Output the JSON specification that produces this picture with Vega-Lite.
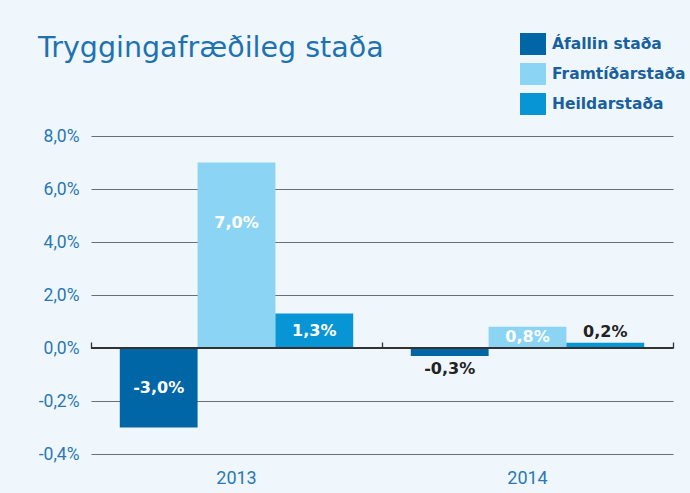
{
  "$schema": "https://vega.github.io/schema/vega-lite/v6.json",
  "width": 582,
  "height": 318,
  "autosize": {"type": "none"},
  "padding": {"left": 91, "top": 136, "right": 17, "bottom": 39},
  "background": "#eff7fd",
  "title": {
    "text": "Tryggingafræðileg staða",
    "anchor": "start",
    "frame": "group",
    "orient": "top",
    "dx": -53,
    "offset": -29,
    "font": "DejaVu Sans",
    "fontSize": 28.5,
    "fontWeight": "normal",
    "color": "#1f72b0"
  },
  "data": {
    "values": [
      {"ar": "2013", "flokkur": "Áfallin staða", "gildi": -3.0},
      {"ar": "2013", "flokkur": "Framtíðarstaða", "gildi": 7.0},
      {"ar": "2013", "flokkur": "Heildarstaða", "gildi": 1.3},
      {"ar": "2014", "flokkur": "Áfallin staða", "gildi": -0.3},
      {"ar": "2014", "flokkur": "Framtíðarstaða", "gildi": 0.8},
      {"ar": "2014", "flokkur": "Heildarstaða", "gildi": 0.2}
    ]
  },
  "config": {
    "view": {"stroke": null},
    "font": "Roboto"
  },
  "encoding": {
    "x": {
      "field": "ar",
      "type": "nominal",
      "scale": {"paddingInner": 0, "paddingOuter": 0}
    },
    "xOffset": {
      "field": "flokkur",
      "type": "nominal",
      "sort": ["Áfallin staða", "Framtíðarstaða", "Heildarstaða"],
      "scale": {"paddingInner": 0, "paddingOuter": 0.37}
    }
  },
  "layer": [
    {
      "mark": {"type": "bar"},
      "encoding": {
        "x": {
          "field": "ar",
          "type": "nominal",
          "scale": {"paddingInner": 0, "paddingOuter": 0},
          "axis": {
            "orient": "bottom",
            "title": null,
            "domain": false,
            "ticks": false,
            "labelAngle": 0,
            "labelFont": "Roboto",
            "labelFontSize": 18,
            "labelColor": "#2a78b5",
            "labelPadding": 15
          }
        },
        "y": {
          "field": "gildi",
          "type": "quantitative",
          "scale": {"domain": [-4, 8], "nice": false},
          "axis": {
            "title": null,
            "values": [-4, -2, 0, 2, 4, 6, 8],
            "labelExpr": "datum.value == -2 ? '-0,2%' : datum.value == -4 ? '-0,4%' : replace(format(datum.value, '.1f'), '.', ',') + '%'",
            "domain": false,
            "ticks": false,
            "grid": true,
            "gridColor": "#6e6e6e",
            "gridWidth": 1.2,
            "labelFont": "Roboto",
            "labelFontSize": 17.5,
            "labelColor": "#2a78b5",
            "labelPadding": 12
          }
        },
        "color": {
          "field": "flokkur",
          "type": "nominal",
          "sort": ["Áfallin staða", "Framtíðarstaða", "Heildarstaða"],
          "scale": {
            "domain": ["Áfallin staða", "Framtíðarstaða", "Heildarstaða"],
            "range": ["#0066a6", "#8cd4f3", "#0795d6"]
          },
          "legend": {
            "title": null,
            "orient": "none",
            "legendX": 431,
            "legendY": -103,
            "symbolType": "M-1.18,-1H1.18V1H-1.18Z",
            "symbolSize": 484,
            "symbolStrokeWidth": 0,
            "symbolOpacity": 1,
            "rowPadding": 8,
            "labelFont": "DejaVu Sans",
            "labelFontSize": 15.5,
            "labelFontWeight": "bold",
            "labelColor": "#1a5f9e",
            "labelOffset": 8
          }
        }
      }
    },
    {
      "mark": {"type": "rule", "color": "#333333", "strokeWidth": 1.3},
      "encoding": {
        "y": {"datum": 0, "type": "quantitative"},
        "x": {"value": 0},
        "x2": {"value": 582},
        "xOffset": null
      }
    },
    {
      "transform": [
        {"calculate": "abs(datum.gildi) < 0.5 ? (datum.gildi < 0 ? datum.gildi - 0.5 : datum.gildi + 0.4) : (datum.gildi > 5 ? datum.gildi - 2.3 : datum.gildi / 2)", "as": "labelY"},
        {"calculate": "replace(replace(format(datum.gildi, '.1f'), '.', ','), '−', '-') + '%'", "as": "merki"},
        {"calculate": "abs(datum.gildi) < 0.5 ? 'dökkt' : 'ljóst'", "as": "lit"}
      ],
      "mark": {"type": "text", "font": "DejaVu Sans", "fontSize": 16, "fontWeight": "bold", "baseline": "middle", "align": "center"},
      "encoding": {
        "x": {
          "field": "ar",
          "type": "nominal",
          "scale": {"paddingInner": 0, "paddingOuter": 0},
          "axis": {
            "orient": "top",
            "offset": -212,
            "title": null,
            "labels": false,
            "domain": false,
            "ticks": true,
            "tickBand": "extent",
            "tickSize": 6,
            "tickColor": "#333333",
            "tickWidth": 1.3,
            "grid": false
          }
        },
        "y": {"field": "labelY", "type": "quantitative"},
        "text": {"field": "merki"},
        "color": {
          "field": "lit",
          "type": "nominal",
          "scale": {"domain": ["dökkt", "ljóst"], "range": ["#222222", "#ffffff"]},
          "legend": null
        }
      }
    }
  ],
  "resolve": {"axis": {"x": "independent"}, "scale": {"color": "independent"}}
}
